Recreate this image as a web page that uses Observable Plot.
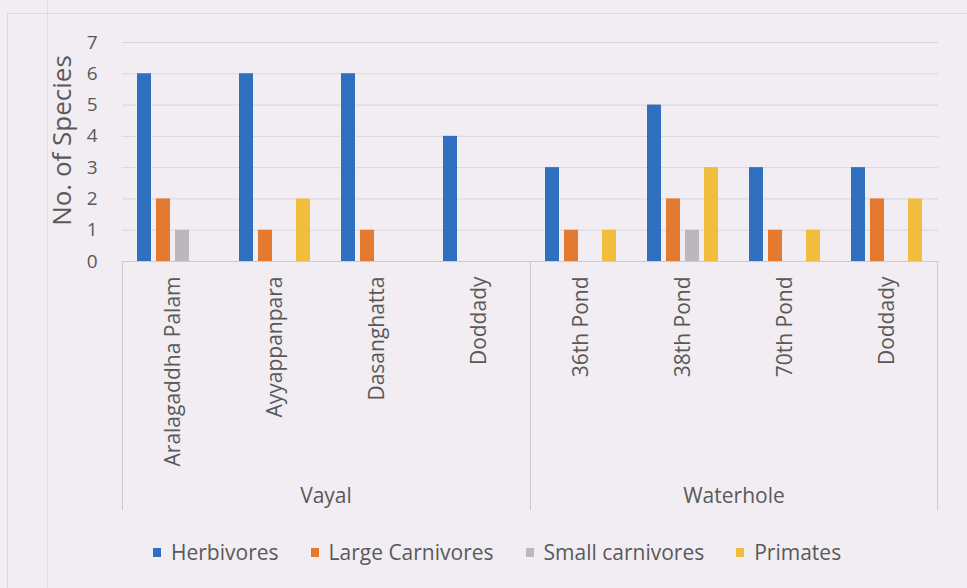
<!DOCTYPE html>
<html>
<head>
<meta charset="utf-8">
<script src="https://cdn.jsdelivr.net/npm/d3@7"></script>
<script src="https://cdn.jsdelivr.net/npm/@observablehq/plot@0.6"></script>
<style>
  html, body { margin: 0; padding: 0; }
  body {
    width: 967px; height: 588px; overflow: hidden; position: relative;
    background: #f1edf3; font-family: "Open Sans", sans-serif; color: #595959;
  }
  .frame-top { position: absolute; left: 7px; right: 0; top: 13px; border-top: 1px solid #dcd8de; }
  .frame-left { position: absolute; left: 7px; top: 13px; bottom: 0; border-left: 1px solid #dcd8de; }
  .page-rule { position: absolute; left: 47px; top: 0; bottom: 0; border-left: 1px solid #d6dcee; }
  #chart { position: absolute; left: 0; top: 0; }
  #legend {
    position: absolute; left: 153px; top: 538px;
    display: flex; align-items: center; font-size: 21px; line-height: 28px; color: #595959;
  }
  #legend .item { display: flex; align-items: center; margin-right: 32px; }
  #legend .swatch { width: 8px; height: 9px; margin-right: 10px; }
</style>
</head>
<body>
<div class="frame-top"></div>
<div class="frame-left"></div>
<div class="page-rule"></div>
<div id="chart"></div>
<div id="legend"></div>
<script>
// Survey sites, grouped by habitat type
const habitats = ["Vayal", "Vayal", "Vayal", "Vayal", "Waterhole", "Waterhole", "Waterhole", "Waterhole"];
const sites = ["Aralagaddha Palam", "Ayyappanpara", "Dasanghatta", "Doddady", "36th Pond", "38th Pond", "70th Pond", "Doddady"];

// Number of species recorded per guild at each site
const guilds = ["Herbivores", "Large Carnivores", "Small carnivores", "Primates"];
const herbivores      = [6, 6, 6, 4, 3, 5, 3, 3];
const largeCarnivores = [2, 1, 1, 0, 1, 2, 1, 2];
const smallCarnivores = [1, 0, 0, 0, 0, 1, 0, 0];
const primates        = [0, 2, 0, 0, 1, 3, 1, 2];

const guildColors = ["#2f6fbf", "#e37a30", "#bab8bc", "#f0bd3c"];
const yTicks = [0, 1, 2, 3, 4, 5, 6, 7];
const habitatNames = ["Vayal", "Waterhole"];

// Long-format table for the grouped bars
const series = [herbivores, largeCarnivores, smallCarnivores, primates];
const siteKeys = sites.map((s, i) => `${habitats[i]}|${s}`);
const rows = [];
siteKeys.forEach((key, i) => {
  guilds.forEach((g, j) => rows.push({ key, guild: g, value: series[j][i] }));
});

const plot = Plot.plot({
  width: 967,
  height: 520,
  marginTop: 42,
  marginBottom: 259,
  marginLeft: 120,
  marginRight: 27,
  style: { background: "transparent", fontFamily: "'Open Sans', sans-serif", color: "#595959", overflow: "visible" },
  fx: {
    domain: siteKeys, padding: 0, label: null, axis: null
  },
  x: { domain: guilds, axis: null, paddingInner: 0.256, paddingOuter: 0.756 },
  y: { domain: [0, 7], axis: null },
  color: { domain: guilds, range: guildColors },
  marks: [
    Plot.gridY(yTicks.filter(d => d > 0), { stroke: "#d9d5dc", strokeOpacity: 1 }),
    Plot.barY(rows, { fx: "key", x: "guild", y: "value", fill: "guild" }),
    Plot.axisFx({
      tickFormat: k => k.split("|")[1], tickRotate: -90, tickSize: 0, tickPadding: 15,
      fontSize: 21, label: null, anchor: "bottom"
    }),
    Plot.axisY(yTicks, {
      anchor: "left", tickSize: 0, tickPadding: 25, fontSize: 19, label: null
    })
  ]
});
document.getElementById("chart").appendChild(plot);

// Multi-level category axis: baseline, habitat separators and habitat names
const svg = d3.select(plot);
const fx = plot.scale("fx");
const y = plot.scale("y");
const y0 = y.apply(0);
const left = fx.apply(siteKeys[0]);
const right = fx.apply(siteKeys[siteKeys.length - 1]) + fx.bandwidth;
const axisBottom = 510;
const g = svg.append("g").attr("stroke", "#cdc9cf");
g.append("line").attr("x1", left).attr("x2", right).attr("y1", y0 + 0.5).attr("y2", y0 + 0.5);
habitatNames.forEach(h => {
  const idx = habitats.indexOf(h);
  const x = Math.round(fx.apply(siteKeys[idx])) + 0.5;
  g.append("line").attr("x1", x).attr("x2", x).attr("y1", y0).attr("y2", axisBottom);
});
g.append("line").attr("x1", right - 0.5).attr("x2", right - 0.5).attr("y1", y0).attr("y2", axisBottom);

habitatNames.forEach(h => {
  const first = habitats.indexOf(h);
  const last = habitats.lastIndexOf(h);
  const cx = (fx.apply(siteKeys[first]) + fx.apply(siteKeys[last]) + fx.bandwidth) / 2;
  svg.append("text")
    .attr("x", cx).attr("y", 503)
    .attr("text-anchor", "middle")
    .attr("fill", "#595959")
    .style("font-size", "21px")
    .text(h);
});

// Y axis title
svg.append("text")
  .attr("transform", `translate(71,${(y.apply(0) + y.apply(7)) / 2 - 11}) rotate(-90)`)
  .attr("text-anchor", "middle")
  .attr("fill", "#595959")
  .style("font-size", "26px")
  .text("No. of Species");

// Legend
const legend = d3.select("#legend");
guilds.forEach((name, i) => {
  const item = legend.append("div").attr("class", "item");
  item.append("div").attr("class", "swatch").style("background", guildColors[i]);
  item.append("span").text(name);
});
</script>
</body>
</html>
